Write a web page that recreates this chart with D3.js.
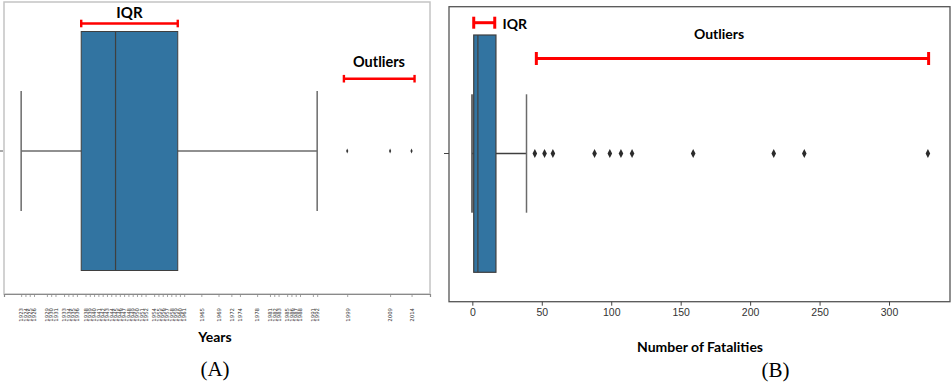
<!DOCTYPE html>
<html>
<head>
<meta charset="utf-8">
<script src="https://cdn.jsdelivr.net/npm/d3@7"></script>
<style>
  html, body { margin: 0; padding: 0; background: #fff; }
  svg { display: block; }
</style>
</head>
<body>
<svg id="chart" width="951" height="383"></svg>
<script>
// Panel A: year of event
const yearTicks = [1923, 1924, 1925, 1926, 1929, 1930, 1931, 1933, 1934, 1935, 1936,
  1938, 1939, 1940, 1941, 1942, 1943, 1944, 1945, 1946, 1947, 1948, 1949, 1950, 1951, 1952,
  1954, 1955, 1956, 1957, 1958, 1959, 1960, 1961, 1965, 1969, 1972, 1974, 1978,
  1981, 1982, 1983, 1985, 1986, 1987, 1988, 1991, 1992, 1999, 2009, 2014];
// [lower whisker, Q1, median, Q3, upper whisker]
const yearStats = [1923, 1937, 1945, 1959.5, 1992];
const yearOutliers = [1999, 2009, 2014];

// Panel B: number of fatalities
const fatalTicks = [0, 50, 100, 150, 200, 250, 300];
const fatalStats = [0, 1, 4, 17, 39];
const fatalOutliers = [45, 52, 58, 88, 99, 107, 115, 159, 217, 239, 328];

const svg = d3.select("#chart");
const BLUE = "#3274a1", EDGE = "#3f3f3f", WHISK = "#6b6b6b", RED = "#ff0000";

function diamond(g, x, y, w, h, fill) {
  g.append("path")
    .attr("d", `M${x},${y - h / 2}L${x + w / 2},${y}L${x},${y + h / 2}L${x - w / 2},${y}Z`)
    .attr("fill", fill);
}

function bracket(g, x0, x1, y, cap, sw) {
  g.append("line").attr("x1", x0).attr("x2", x1).attr("y1", y).attr("y2", y)
    .attr("stroke", RED).attr("stroke-width", sw);
  [x0, x1].forEach(x => g.append("line").attr("x1", x).attr("x2", x)
    .attr("y1", y - cap).attr("y2", y + cap).attr("stroke", RED).attr("stroke-width", sw));
}

// ---------- Panel A ----------
{
  const g = svg.append("g");
  const x = d3.scaleLinear().domain([1919, 2018.3]).range([4, 430]);
  const cy = 151, boxTop = 31.5, boxBot = 270.5, capH = 60;
  const [lo, q1, med, q3, hi] = yearStats;

  // frame
  g.append("rect").attr("x", 4).attr("y", 2).attr("width", 426).attr("height", 292)
    .attr("fill", "none").attr("stroke", "#c4c4c4").attr("stroke-width", 1.5);

  // x axis with one tick per year present
  const ax = g.append("g").attr("transform", "translate(0,294)")
    .call(d3.axisBottom(x).tickValues(yearTicks).tickFormat(d3.format("d")).tickSize(3).tickPadding(2));
  ax.select(".domain").attr("stroke", "#8a8a8a").attr("stroke-width", 1.2);
  ax.selectAll(".tick line").attr("stroke", "#8a8a8a").attr("stroke-width", 0.8);
  ax.selectAll(".tick text")
    .attr("font-family", "DejaVu Sans").attr("font-size", 5.4).attr("fill", "#333")
    .attr("text-anchor", "end").attr("dy", 0).attr("y", 0)
    .attr("transform", "translate(1.8,14) rotate(-90)");

  // y tick
  g.append("line").attr("x1", 0).attr("x2", 3).attr("y1", cy).attr("y2", cy).attr("stroke", "#555");

  // whiskers
  g.append("line").attr("x1", x(lo)).attr("x2", x(q1)).attr("y1", cy).attr("y2", cy)
    .attr("stroke", WHISK).attr("stroke-width", 1.5);
  g.append("line").attr("x1", x(q3)).attr("x2", x(hi)).attr("y1", cy).attr("y2", cy)
    .attr("stroke", WHISK).attr("stroke-width", 1.5);
  [lo, hi].forEach(v => g.append("line").attr("x1", x(v)).attr("x2", x(v))
    .attr("y1", cy - capH).attr("y2", cy + capH).attr("stroke", WHISK).attr("stroke-width", 1.5));

  // box
  g.append("rect").attr("x", x(q1)).attr("y", boxTop).attr("width", x(q3) - x(q1))
    .attr("height", boxBot - boxTop).attr("fill", BLUE).attr("stroke", EDGE).attr("stroke-width", 1);
  g.append("line").attr("x1", x(med)).attr("x2", x(med)).attr("y1", boxTop).attr("y2", boxBot)
    .attr("stroke", EDGE).attr("stroke-width", 1.2);

  yearOutliers.forEach(v => diamond(g, x(v), cy, 2.2, 5, "#333"));

  // annotations
  bracket(g, x(q1), x(q3), 23.5, 3.8, 2.4);
  g.append("text").attr("x", (x(q1) + x(q3)) / 2).attr("y", 17.5).attr("text-anchor", "middle")
    .attr("font-family", "Lato").attr("font-weight", "bold").attr("font-size", 15).text("IQR");
  bracket(g, x(yearOutliers[0]) - 3.3, x(yearOutliers[yearOutliers.length - 1]) + 3, 78.7, 3.8, 2.4);
  g.append("text").attr("x", 379).attr("y", 67).attr("text-anchor", "middle")
    .attr("font-family", "Lato").attr("font-weight", "bold").attr("font-size", 14.5).text("Outliers");

  g.append("text").attr("x", 215).attr("y", 342).attr("text-anchor", "middle")
    .attr("font-family", "Lato").attr("font-weight", "bold").attr("font-size", 14).text("Years");
  g.append("text").attr("x", 215).attr("y", 376).attr("text-anchor", "middle")
    .attr("font-family", "Liberation Serif").attr("font-size", 21).text("(A)");
}

// ---------- Panel B ----------
{
  const g = svg.append("g");
  const x = d3.scaleLinear().domain([-16.8, 343.9]).range([449, 950]);
  const cy = 153.5, boxTop = 35, boxBot = 272.3, capH = 59.2;
  const [lo, q1, med, q3, hi] = fatalStats;

  g.append("rect").attr("x", 449).attr("y", 6.7).attr("width", 501).attr("height", 295)
    .attr("fill", "none").attr("stroke", "#555").attr("stroke-width", 1.3);

  const ax = g.append("g").attr("transform", "translate(0,301.7)")
    .call(d3.axisBottom(x).tickValues(fatalTicks).tickSize(4).tickPadding(3));
  ax.select(".domain").remove();
  ax.selectAll(".tick line").attr("stroke", "#444").attr("stroke-width", 1);
  ax.selectAll(".tick text").attr("font-family", "Liberation Sans").attr("font-size", 10.5)
    .attr("fill", "#333");

  g.append("line").attr("x1", 444).attr("x2", 449).attr("y1", cy).attr("y2", cy).attr("stroke", "#444");

  // lower whisker cap, right whisker
  g.append("line").attr("x1", x(lo)).attr("x2", x(lo)).attr("y1", cy - capH).attr("y2", cy + capH)
    .attr("stroke", WHISK).attr("stroke-width", 2.6);
  g.append("line").attr("x1", x(lo)).attr("x2", x(q1)).attr("y1", cy).attr("y2", cy)
    .attr("stroke", "#3f3f3f").attr("stroke-width", 1.5);
  g.append("line").attr("x1", x(q3)).attr("x2", x(hi)).attr("y1", cy).attr("y2", cy)
    .attr("stroke", "#3f3f3f").attr("stroke-width", 1.5);
  g.append("line").attr("x1", x(hi)).attr("x2", x(hi)).attr("y1", cy - capH).attr("y2", cy + capH)
    .attr("stroke", WHISK).attr("stroke-width", 1.5);

  g.append("rect").attr("x", x(q1)).attr("y", boxTop).attr("width", x(q3) - x(q1))
    .attr("height", boxBot - boxTop).attr("fill", BLUE).attr("stroke", EDGE).attr("stroke-width", 1.2);
  g.append("line").attr("x1", x(med)).attr("x2", x(med)).attr("y1", boxTop).attr("y2", boxBot)
    .attr("stroke", EDGE).attr("stroke-width", 1.2);

  fatalOutliers.forEach(v => diamond(g, x(v), cy, 4.6, 9, "#2b2b2b"));

  bracket(g, x(q1), x(q3) - 1.2, 22.7, 6, 3);
  g.append("text").attr("x", 502.5).attr("y", 29).attr("font-family", "Lato")
    .attr("font-weight", "bold").attr("font-size", 14).text("IQR");
  bracket(g, x(fatalOutliers[0]) + 1.5, x(fatalOutliers[fatalOutliers.length - 1]) + 0.7, 58.5, 6.5, 3);
  g.append("text").attr("x", 694).attr("y", 39).attr("font-family", "Lato")
    .attr("font-weight", "bold").attr("font-size", 14).text("Outliers");

  g.append("text").attr("x", 700).attr("y", 352).attr("text-anchor", "middle")
    .attr("font-family", "Lato").attr("font-weight", "bold").attr("font-size", 14)
    .text("Number of Fatalities");
  g.append("text").attr("x", 775.5).attr("y", 377).attr("text-anchor", "middle")
    .attr("font-family", "Liberation Serif").attr("font-size", 21).text("(B)");
}
</script>
</body>
</html>
